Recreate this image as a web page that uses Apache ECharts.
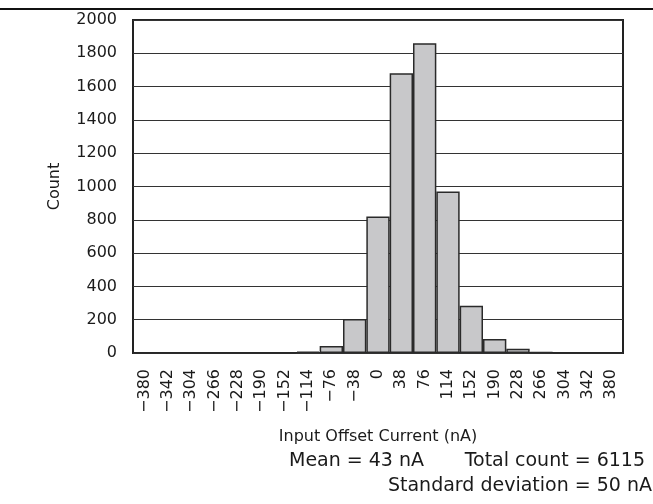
<!DOCTYPE html>
<html>
<head>
<meta charset="utf-8">
<script src="https://cdn.jsdelivr.net/npm/echarts@6/dist/echarts.min.js"></script>
<style>
html,body{margin:0;padding:0;background:#fff;}
#chart{width:653px;height:504px;}
</style>
</head>
<body>
<div id="chart"></div>
<script>
var categories = [-380,-342,-304,-266,-228,-190,-152,-114,-76,-38,0,38,76,114,152,190,228,266,304,342,380];
var counts = [0,0,0,0,0,0,0,8,42,204,820,1680,1860,970,284,84,26,5,0,0,0];
var yTicks = {min:0, max:2000, interval:200};
var xTitle = 'Input Offset Current (nA)';
var yTitle = 'Count';
var statsLine1a = 'Mean = 43 nA';
var statsLine1b = 'Total count = 6115';
var statsLine2 = 'Standard deviation = 50 nA';

var FONT = 'DejaVu Sans';
var TXT = '#1a1a1a';
var chart = echarts.init(document.getElementById('chart'), null, {renderer:'canvas'});
chart.setOption({
  animation:false,
  backgroundColor:'#fff',
  grid:{left:133, right:30, top:20, bottom:151, show:true, borderColor:'#222', borderWidth:2, backgroundColor:'transparent'},
  xAxis:{
    type:'category',
    data:categories.map(String),
    axisLine:{show:false},
    axisTick:{show:false},
    axisLabel:{
      rotate:90, margin:16, fontFamily:FONT, fontSize:16, color:TXT, interval:0,
      formatter:function(v){ return String(v).replace('-', '\u2212'); }
    },
    name:xTitle, nameLocation:'middle', nameGap:76,
    nameTextStyle:{fontFamily:FONT, fontSize:16, color:TXT}
  },
  yAxis:{
    type:'value', min:yTicks.min, max:yTicks.max, interval:yTicks.interval,
    axisLine:{show:false}, axisTick:{show:false},
    splitLine:{show:true, lineStyle:{color:'#333', width:1}},
    axisLabel:{margin:16, fontFamily:FONT, fontSize:16, color:TXT, formatter:function(v){return String(v);}},
    name:yTitle, nameLocation:'middle', nameGap:70,
    nameTextStyle:{fontFamily:FONT, fontSize:16, color:TXT}
  },
  series:[{
    type:'bar', data:counts, barCategoryGap:'0%', barGap:'0%',
    itemStyle:{color:'#c8c8ca', borderColor:'#2a2a2a', borderWidth:1.5}
  }],
  graphic:[
    {type:'line', shape:{x1:0, y1:9, x2:653, y2:9}, style:{stroke:'#111', lineWidth:2}},
    {type:'text', left:289, top:452, style:{text:statsLine1a, font:'19px "DejaVu Sans"', fill:TXT}},
    {type:'text', right:8, top:452, style:{text:statsLine1b, font:'19px "DejaVu Sans"', fill:TXT}},
    {type:'text', right:1, top:477, style:{text:statsLine2, font:'19px "DejaVu Sans"', fill:TXT}}
  ]
});
</script>
</body>
</html>
